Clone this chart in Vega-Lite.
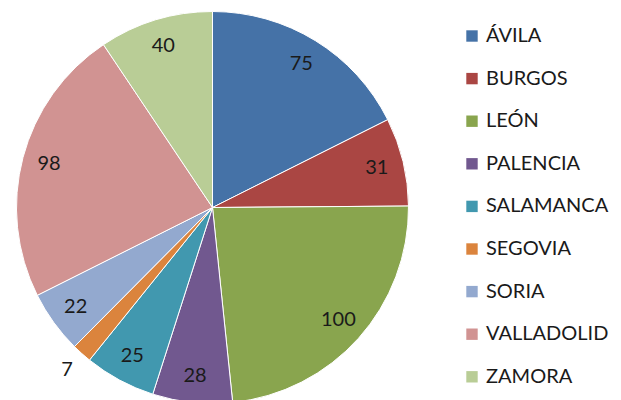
{
  "$schema": "https://vega.github.io/schema/vega-lite/v6.json",
  "autosize": "none",
  "padding": {"left": 0, "top": 0, "right": 196, "bottom": 0},
  "width": 425,
  "height": 415,
  "background": "white",
  "data": {
    "values": [
      {"i": 1, "provincia": "ÁVILA", "valor": 75},
      {"i": 2, "provincia": "BURGOS", "valor": 31},
      {"i": 3, "provincia": "LEÓN", "valor": 100},
      {"i": 4, "provincia": "PALENCIA", "valor": 28},
      {"i": 5, "provincia": "SALAMANCA", "valor": 25},
      {"i": 6, "provincia": "SEGOVIA", "valor": 7},
      {"i": 7, "provincia": "SORIA", "valor": 22},
      {"i": 8, "provincia": "VALLADOLID", "valor": 98},
      {"i": 9, "provincia": "ZAMORA", "valor": 40}
    ]
  },
  "encoding": {
    "theta": {"field": "valor", "type": "quantitative", "stack": true},
    "order": {"field": "i", "type": "quantitative"}
  },
  "layer": [
    {
      "mark": {"type": "arc", "outerRadius": 196, "stroke": "white", "strokeWidth": 1},
      "encoding": {
        "color": {
          "field": "provincia",
          "type": "nominal",
          "scale": {
            "domain": ["ÁVILA", "BURGOS", "LEÓN", "PALENCIA", "SALAMANCA", "SEGOVIA", "SORIA", "VALLADOLID", "ZAMORA"],
            "range": ["#4572A7", "#AA4643", "#89A54E", "#71588F", "#4198AF", "#DB843D", "#93A9CF", "#D19392", "#B9CD96"]
          },
          "legend": {
            "title": null,
            "orient": "none",
            "legendX": 462,
            "legendY": 26,
            "symbolType": "square",
            "symbolSize": 130,
            "symbolStrokeWidth": 0,
            "labelFont": "Lato",
            "labelFontSize": 20,
            "labelColor": "#1a1a1a",
            "labelOffset": 4,
            "rowPadding": 22.6,
            "labelLimit": 200
          }
        }
      }
    },
    {
      "mark": {
        "type": "text",
        "font": "Lato",
        "fontSize": 20,
        "color": "#1a1a1a",
        "radius": {"expr": "datum.provincia == 'SEGOVIA' ? 218 : 169"}
      },
      "encoding": {
        "text": {"field": "valor", "type": "quantitative"}
      }
    }
  ]
}
